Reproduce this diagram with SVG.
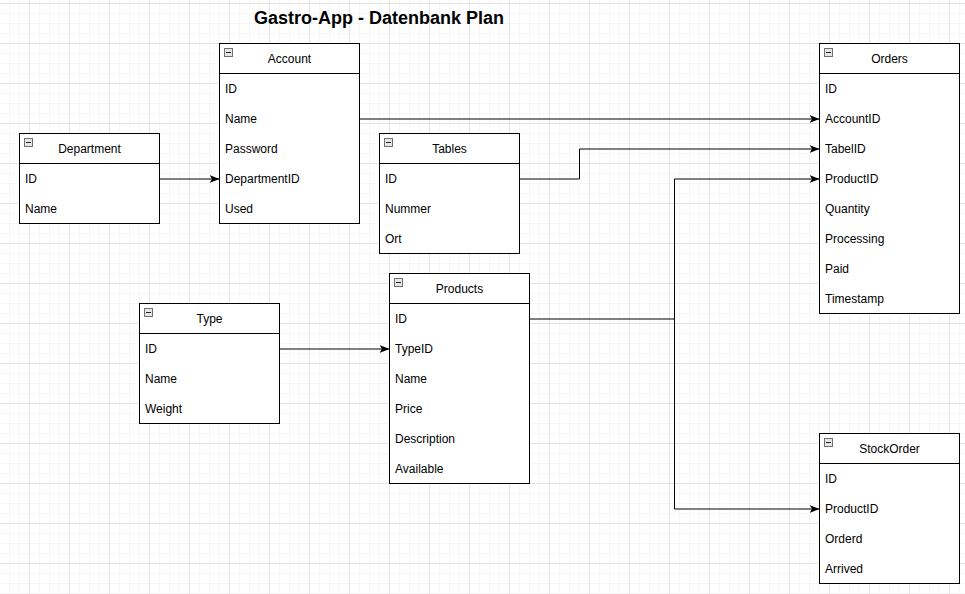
<svg xmlns="http://www.w3.org/2000/svg" width="965" height="594" viewBox="0 0 965 594">
<defs>
<pattern id="grid" x="-10" y="-36" width="40" height="40" patternUnits="userSpaceOnUse">
<path d="M9.5 0V40M19.5 0V40M29.5 0V40M0 9.5H40M0 19.5H40M0 29.5H40" stroke="#f6f6f6" stroke-width="1" fill="none"/>
<path d="M39.5 0V40M0 39.5H40" stroke="#e3e3e3" stroke-width="1" fill="none"/>
</pattern>
<marker id="arr" viewBox="0 0 10 10" refX="10" refY="5" markerWidth="10" markerHeight="10" markerUnits="userSpaceOnUse" orient="auto">
<path d="M0 1 L10 5 L0 9 L2.5 5 Z" fill="#000"/>
</marker>
<g id="minus">
<rect x="0.5" y="0.5" width="8" height="8" fill="#e6e6e6" stroke="#707070"/>
<path d="M2 4.5H7" stroke="#222" stroke-width="1"/>
</g>
</defs>
<style>
.box{fill:#fff;stroke:#000;stroke-width:1}
.sep{stroke:#000;stroke-width:1}
.hd{font-family:"Liberation Sans",Arial,sans-serif;font-size:12px;fill:#000;text-anchor:middle}
.f{font-family:"Liberation Sans",Arial,sans-serif;font-size:12px;fill:#000}
.title{font-family:"Liberation Sans",Arial,sans-serif;font-size:18px;font-weight:bold;fill:#000;text-anchor:middle}
.c{fill:none;stroke:#000;stroke-width:1}
</style>
<rect width="965" height="594" fill="#fff"/>
<rect width="965" height="594" fill="url(#grid)"/>
<text class="title" x="379" y="24">Gastro-App - Datenbank Plan</text>

<g id="connectors">
<path class="c" d="M359.5 119H819.5" marker-end="url(#arr)"/>
<path class="c" d="M519.5 179H579.5V149H819.5" marker-end="url(#arr)"/>
<path class="c" d="M529.5 319H674.5V179H819.5" marker-end="url(#arr)"/>
<path class="c" d="M674.5 319V509H819.5" marker-end="url(#arr)"/>
<path class="c" d="M159.5 179H219.5" marker-end="url(#arr)"/>
<path class="c" d="M279.5 349H389.5" marker-end="url(#arr)"/>
</g>

<g id="account">
<rect class="box" x="219.5" y="43.5" width="140" height="180"/>
<path class="sep" d="M219.5 73.5H359.5"/>
<use href="#minus" x="224" y="48"/>
<text class="hd" x="289.5" y="63">Account</text>
<text class="f" x="225" y="93">ID</text>
<text class="f" x="225" y="123">Name</text>
<text class="f" x="225" y="153">Password</text>
<text class="f" x="225" y="183">DepartmentID</text>
<text class="f" x="225" y="213">Used</text>
</g>

<g id="department">
<rect class="box" x="19.5" y="133.5" width="140" height="90"/>
<path class="sep" d="M19.5 163.5H159.5"/>
<use href="#minus" x="24" y="138"/>
<text class="hd" x="89.5" y="153">Department</text>
<text class="f" x="25" y="183">ID</text>
<text class="f" x="25" y="213">Name</text>
</g>

<g id="tables">
<rect class="box" x="379.5" y="133.5" width="140" height="120"/>
<path class="sep" d="M379.5 163.5H519.5"/>
<use href="#minus" x="384" y="138"/>
<text class="hd" x="449.5" y="153">Tables</text>
<text class="f" x="385" y="183">ID</text>
<text class="f" x="385" y="213">Nummer</text>
<text class="f" x="385" y="243">Ort</text>
</g>

<g id="orders">
<rect class="box" x="819.5" y="43.5" width="140" height="270"/>
<path class="sep" d="M819.5 73.5H959.5"/>
<use href="#minus" x="824" y="48"/>
<text class="hd" x="889.5" y="63">Orders</text>
<text class="f" x="825" y="93">ID</text>
<text class="f" x="825" y="123">AccountID</text>
<text class="f" x="825" y="153">TabelID</text>
<text class="f" x="825" y="183">ProductID</text>
<text class="f" x="825" y="213">Quantity</text>
<text class="f" x="825" y="243">Processing</text>
<text class="f" x="825" y="273">Paid</text>
<text class="f" x="825" y="303">Timestamp</text>
</g>

<g id="type">
<rect class="box" x="139.5" y="303.5" width="140" height="120"/>
<path class="sep" d="M139.5 333.5H279.5"/>
<use href="#minus" x="144" y="308"/>
<text class="hd" x="209.5" y="323">Type</text>
<text class="f" x="145" y="353">ID</text>
<text class="f" x="145" y="383">Name</text>
<text class="f" x="145" y="413">Weight</text>
</g>

<g id="products">
<rect class="box" x="389.5" y="273.5" width="140" height="210"/>
<path class="sep" d="M389.5 303.5H529.5"/>
<use href="#minus" x="394" y="278"/>
<text class="hd" x="459.5" y="293">Products</text>
<text class="f" x="395" y="323">ID</text>
<text class="f" x="395" y="353">TypeID</text>
<text class="f" x="395" y="383">Name</text>
<text class="f" x="395" y="413">Price</text>
<text class="f" x="395" y="443">Description</text>
<text class="f" x="395" y="473">Available</text>
</g>

<g id="stockorder">
<rect class="box" x="819.5" y="433.5" width="140" height="150"/>
<path class="sep" d="M819.5 463.5H959.5"/>
<use href="#minus" x="824" y="438"/>
<text class="hd" x="889.5" y="453">StockOrder</text>
<text class="f" x="825" y="483">ID</text>
<text class="f" x="825" y="513">ProductID</text>
<text class="f" x="825" y="543">Orderd</text>
<text class="f" x="825" y="573">Arrived</text>
</g>
</svg>
